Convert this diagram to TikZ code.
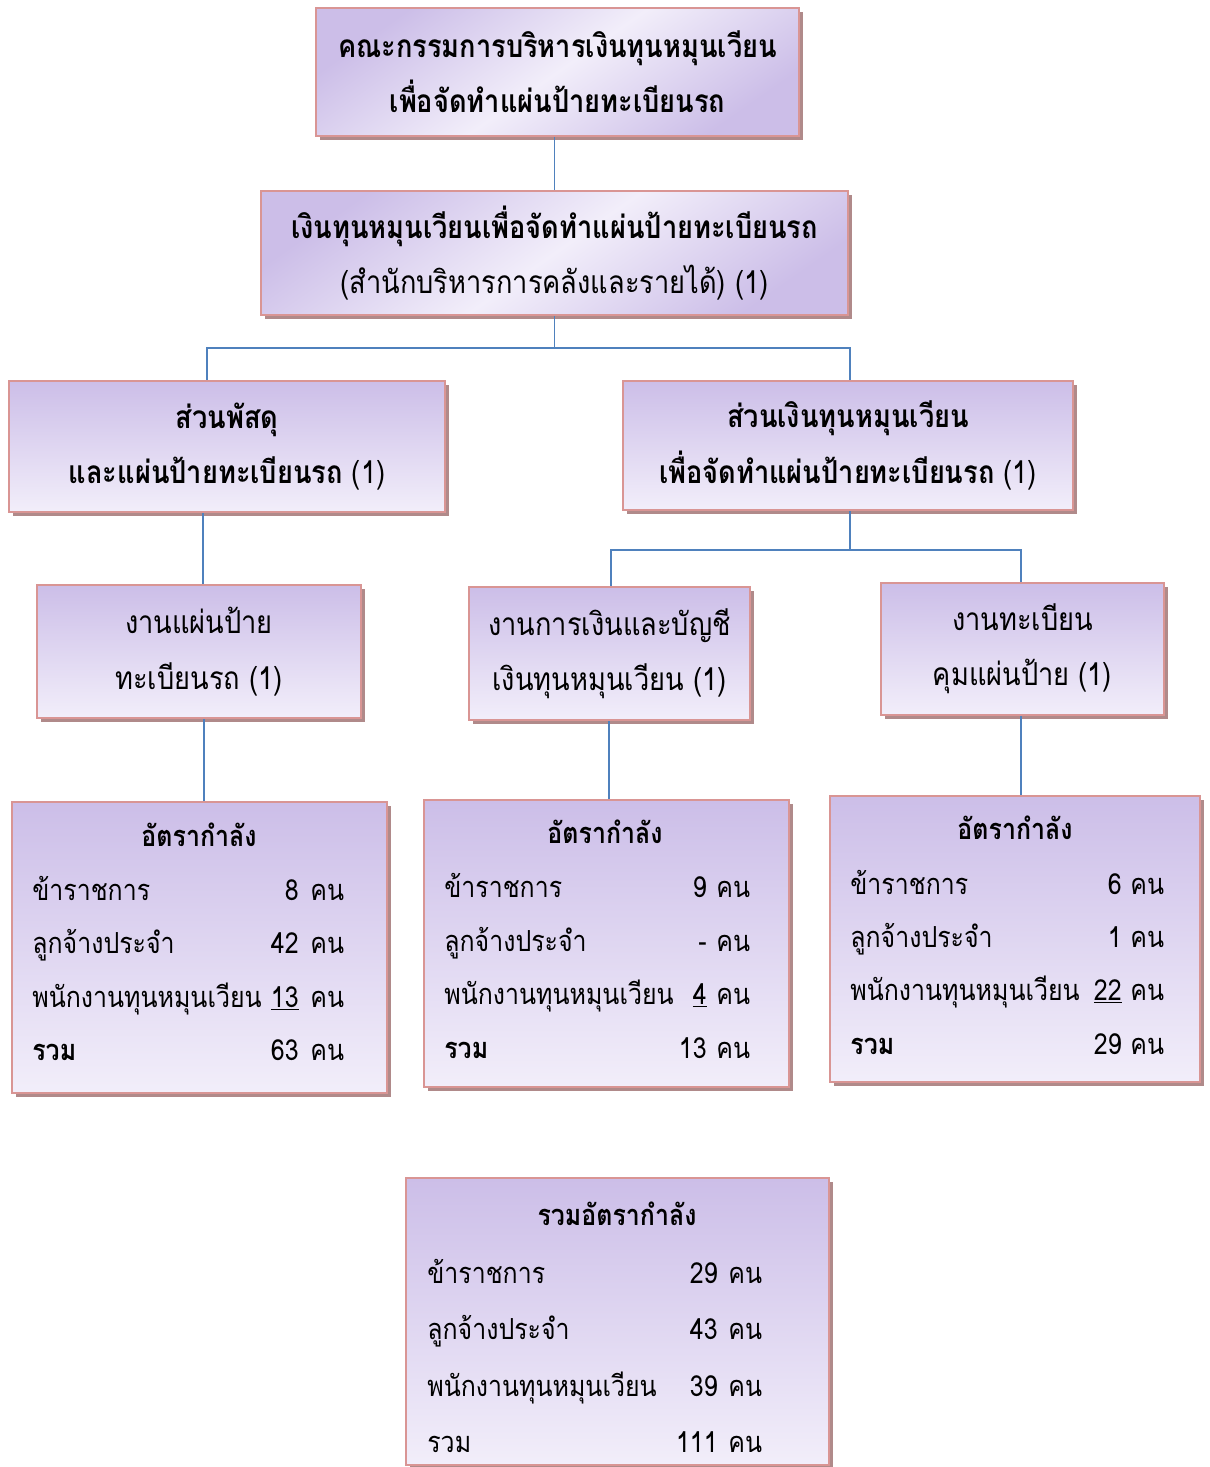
\documentclass[tikz,border=0pt]{standalone}
\usepackage{fontspec}
\setmainfont[Script=Thai, FakeStretch=0.86]{Loma}
\usetikzlibrary{shadows}
\definecolor{boxline}{RGB}{217,149,148}
\definecolor{boxtop}{RGB}{204,190,232}
\definecolor{boxlight}{RGB}{242,238,250}
\definecolor{boxshadow}{RGB}{176,138,138}
\definecolor{linkcol}{RGB}{79,129,189}
\tikzset{
  orgbox/.style={draw=boxline, line width=1.3pt, top color=boxtop, bottom color=boxlight,
    drop shadow={shadow xshift=0.08cm, shadow yshift=-0.08cm, fill=boxshadow, opacity=1},
    align=center, inner sep=0pt, font=\fontsize{18}{31.5}\selectfont},
  headbox/.style={orgbox, top color=boxtop, bottom color=boxtop, middle color=boxlight, shading angle=35},
  link/.style={draw=linkcol, line width=1.1pt},
  rowtext/.style={inner sep=0pt, font=\fontsize{16.5}{18}\selectfont},
}
\begin{document}
\begin{tikzpicture}[x=0.02cm, y=-0.02cm]
  \useasboundingbox (0,0) rectangle (1210,1467);
  % boxes of the chart
  \node[headbox, minimum width=9.66cm, minimum height=2.56cm] (b1) at (557.5,72)
    {\textbf{คณะกรรมการบริหารเงินทุนหมุนเวียน}\\\textbf{เพื่อจัดทำแผ่นป้ายทะเบียนรถ}};
  \node[headbox, minimum width=11.74cm, minimum height=2.48cm] (b2) at (554.5,253)
    {\textbf{เงินทุนหมุนเวียนเพื่อจัดทำแผ่นป้ายทะเบียนรถ}\\(สำนักบริหารการคลังและรายได้) (1)};
  \node[orgbox, minimum width=8.72cm, minimum height=2.62cm] (b3) at (227,446.5)
    {\textbf{ส่วนพัสดุ}\\\textbf{และแผ่นป้ายทะเบียนรถ} (1)};
  \node[orgbox, minimum width=9cm, minimum height=2.58cm] (b4) at (848,445.5)
    {\textbf{ส่วนเงินทุนหมุนเวียน}\\\textbf{เพื่อจัดทำแผ่นป้ายทะเบียนรถ} (1)};
  \node[orgbox, minimum width=6.48cm, minimum height=2.66cm] (b5) at (199,651.5)
    {งานแผ่นป้าย\\ทะเบียนรถ (1)};
  \node[orgbox, minimum width=5.62cm, minimum height=2.66cm] (b6) at (609.5,653.5)
    {งานการเงินและบัญชี\\เงินทุนหมุนเวียน (1)};
  \node[orgbox, minimum width=5.66cm, minimum height=2.64cm] (b7) at (1022.5,649)
    {งานทะเบียน\\คุมแผ่นป้าย (1)};
  % staff boxes
  \node[orgbox, minimum width=7.5cm, minimum height=5.82cm] (s1) at (199.5,947.5) {};
  \node[orgbox, minimum width=7.3cm, minimum height=5.74cm] (s2) at (606.5,943.5) {};
  \node[orgbox, minimum width=7.4cm, minimum height=5.72cm] (s3) at (1015,939) {};
  \node[orgbox, minimum width=8.46cm, minimum height=5.74cm] (s4) at (617.5,1321.5) {};

  % connectors
  \coordinate (j1l) at (207,348);
  \coordinate (j1r) at (850,348);
  \coordinate (j2l) at (611,550);
  \coordinate (j2r) at (1021,550);
  \coordinate (k3) at (203,0);
  \coordinate (k5) at (204,0);
  \coordinate (k6) at (609,0);
  \draw[link] (b2.north |- b1.south) -- (b2.north);
  \draw[link] (b2.south) -- (b2.south |- j1l);
  \draw[link] (j1l |- b3.north) -- (j1l) -- (j1r) -- (j1r |- b4.north);
  \draw[link] (b4.south -| j1r) -- (j1r |- j2l);
  \draw[link] (j2l |- b6.north) -- (j2l) -- (j2r) -- (j2r |- b7.north);
  \draw[link] (k3 |- b3.south) -- (k3 |- b5.north);
  \draw[link] (k5 |- b5.south) -- (k5 |- s1.north);
  \draw[link] (k6 |- b6.south) -- (k6 |- s2.north);
  \draw[link] (b7.south -| j2r) -- (j2r |- s3.north);

  % staff figures
  \node[rowtext, anchor=base] (t1) at (199,846) {\textbf{อัตรากำลัง}};
  \foreach \y/\lab/\num [count=\i] in {900/ข้าราชการ/8, 953/ลูกจ้างประจำ/42,
      1007/พนักงานทุนหมุนเวียน/{\underline{13}}, 1060/{\textbf{รวม}}/63} {
    \node[rowtext, anchor=base west] (l1\i) at (32,\y) {\lab};
    \node[rowtext, anchor=base east] (n1\i) at (299,\y) {\num};
    \node[rowtext, anchor=base west] (u1\i) at (310,\y) {คน};
  }
  \node[rowtext, anchor=base] (t2) at (605,843) {\textbf{อัตรากำลัง}};
  \foreach \y/\lab/\num [count=\i] in {897/ข้าราชการ/9, 951/ลูกจ้างประจำ/-,
      1004/พนักงานทุนหมุนเวียน/{\underline{4}}, 1058/{\textbf{รวม}}/13} {
    \node[rowtext, anchor=base west] (l2\i) at (444,\y) {\lab};
    \node[rowtext, anchor=base east] (n2\i) at (707,\y) {\num};
    \node[rowtext, anchor=base west] (u2\i) at (716,\y) {คน};
  }
  \node[rowtext, anchor=base] (t3) at (1015,839) {\textbf{อัตรากำลัง}};
  \foreach \y/\lab/\num [count=\i] in {894/ข้าราชการ/6, 947/ลูกจ้างประจำ/1,
      1000/พนักงานทุนหมุนเวียน/{\underline{22}}, 1054/{\textbf{รวม}}/29} {
    \node[rowtext, anchor=base west] (l3\i) at (850,\y) {\lab};
    \node[rowtext, anchor=base east] (n3\i) at (1122,\y) {\num};
    \node[rowtext, anchor=base west] (u3\i) at (1130,\y) {คน};
  }
  \node[rowtext, anchor=base] (t4) at (617,1225) {\textbf{รวมอัตรากำลัง}};
  \foreach \y/\lab/\num [count=\i] in {1283/ข้าราชการ/29, 1339/ลูกจ้างประจำ/43,
      1396/พนักงานทุนหมุนเวียน/39, 1452/รวม/111} {
    \node[rowtext, anchor=base west] (l4\i) at (427,\y) {\lab};
    \node[rowtext, anchor=base east] (n4\i) at (718,\y) {\num};
    \node[rowtext, anchor=base west] (u4\i) at (728,\y) {คน};
  }
\end{tikzpicture}
\end{document}
